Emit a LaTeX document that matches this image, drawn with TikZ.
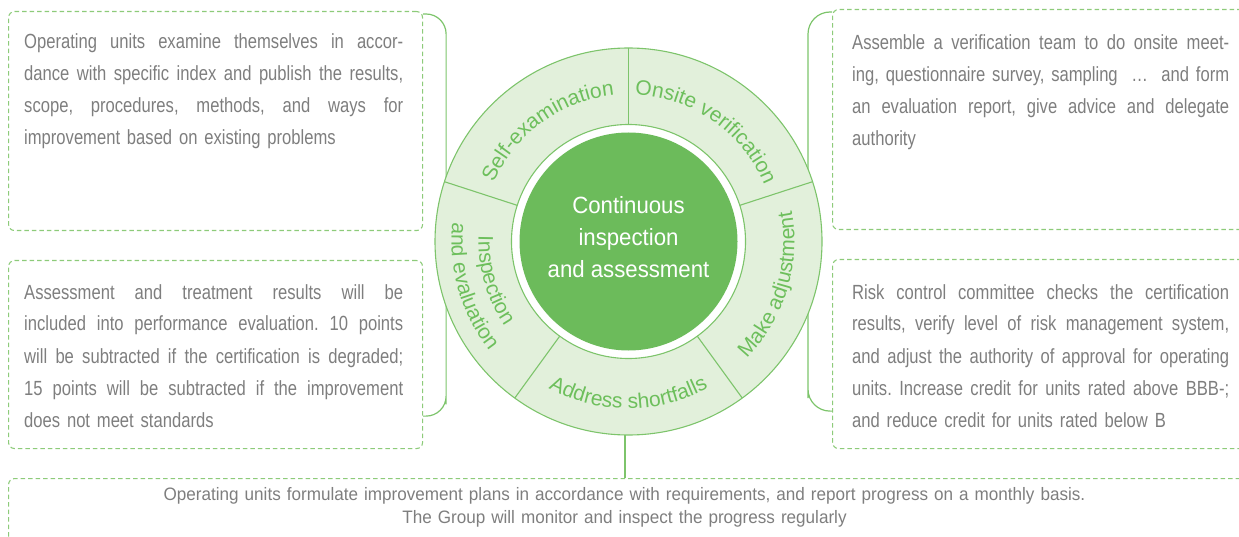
\documentclass[tikz,border=0pt]{standalone}
\usepackage{fontspec}
\setmainfont{Liberation Sans}
\newfontfamily\bodyfam[FakeStretch=0.81]{Liberation Sans}
\newfontfamily\botfam[FakeStretch=0.95]{Liberation Sans}
\newfontfamily\ctrfam[FakeStretch=0.945]{Liberation Sans}
\newfontfamily\ringfam{Liberation Sans}
\newcommand{\bodyfont}{\bodyfam\fontsize{20.5}{32}\selectfont\frenchspacing}
\newcommand{\botfont}{\botfam\fontsize{18}{23}\selectfont\frenchspacing}
\newcommand{\ctrfont}{\ctrfam\fontsize{23.5}{32}\selectfont}
\newcommand{\ringfont}{\ringfam\fontsize{21}{24}\selectfont}
\newcommand{\fla}[1]{\makebox[379pt][s]{\spaceskip=4.62pt plus 1fil minus 1pt\relax\xspaceskip=4.62pt plus 1fil minus 1pt\relax #1}}
\newcommand{\flb}[1]{\makebox[377pt][s]{\spaceskip=4.62pt plus 1fil minus 1pt\relax\xspaceskip=4.62pt plus 1fil minus 1pt\relax #1}}
\usetikzlibrary{decorations.text,calc}
\definecolor{dashgreen}{HTML}{8DCB7A}
\definecolor{linegreen}{HTML}{7DC46B}
\definecolor{ringfill}{HTML}{E2F0DB}
\definecolor{centergreen}{HTML}{6CBB5B}
\definecolor{ringtext}{HTML}{6DBF5C}
\definecolor{bodygray}{HTML}{7E7E7E}
\begin{document}
\begin{tikzpicture}[x=1pt,y=1pt,
  dbox/.style={draw=dashgreen, line width=1.1pt, dash pattern=on 4.5pt off 3pt,
    rounded corners=6pt, rectangle, inner sep=0pt, anchor=north west},
  bodytxt/.style={anchor=base west, inner sep=0pt, text width=#1, align=left,
    font=\bodyfont, text=bodygray},
  bracket/.style={draw=linegreen, line width=1.2pt},
  ringline/.style={draw=linegreen, line width=1.1pt}]
\useasboundingbox (0,0) rectangle (1239,-537);
\clip (0,0) rectangle (1239,-537);

% boxes
\node[dbox, minimum width=414pt, minimum height=219pt] (box1) at (8,-11) {};
\node[dbox, minimum width=414pt, minimum height=188pt] (box2) at (8,-260) {};
\node[dbox, minimum width=430pt, minimum height=220pt] (box3) at (832,-9) {};
\node[dbox, minimum width=430pt, minimum height=189pt] (box4) at (832,-259) {};
\node[dbox, minimum width=1260pt, minimum height=90pt] (box5) at (8,-478) {};

% box texts
\node[bodytxt=380pt] (t1) at (24,-49) {%
\fla{Operating units examine themselves in accor-}\\
\fla{dance with specific index and publish the results,}\\
\fla{scope, procedures, methods, and ways for}\\
improvement based on existing problems};
\node[bodytxt=380pt] (t2) at (24,-299) {%
\fla{Assessment and treatment results will be}\\
\fla{included into performance evaluation. 10 points}\\
\fla{will be subtracted if the certification is degraded;}\\
\fla{15 points will be subtracted if the improvement}\\
does not meet standards};
\node[bodytxt=378pt] (t3) at (852,-50) {%
\flb{Assemble a verification team to do onsite meet-}\\
\flb{ing, questionnaire survey, sampling \ … \ and form}\\
\flb{an evaluation report, give advice and delegate}\\
authority};
\node[bodytxt=378pt] (t4) at (852,-299) {%
\flb{Risk control committee checks the certification}\\
\flb{results, verify level of risk management system,}\\
\flb{and adjust the authority of approval for operating}\\
\flb{units. Increase credit for units rated above BBB-;}\\
and reduce credit for units rated below B};
\node[anchor=base, inner sep=0pt, text width=1100pt, align=center, font=\botfont, text=bodygray] (t5) at (624.5,-500) {%
Operating units formulate improvement plans in accordance with requirements, and report progress on a monthly basis.\\
The Group will monitor and inspect the progress regularly};

% brackets
\coordinate (lb1) at ($(box1.north east)+(0,-3)$);
\coordinate (lb2) at ($(box2.south east)+(0,33)$);
\coordinate (rb1) at ($(box3.north west)+(0,-3)$);
\coordinate (rb2) at ($(box4.south west)+(0,38)$);
\draw[bracket, rounded corners=20pt] (lb1) -| ($(lb2)+(23,0)$) |- (lb2);
\draw[bracket, rounded corners=22pt] (rb1) -| ($(rb2)+(-24,0)$) |- (rb2);

% ring
\coordinate (C) at (628.5,-241.5);
\fill[ringfill, even odd rule] (C) circle[radius=193.5] (C) circle[radius=117];
\draw[ringline] (C) circle[radius=193.5];
\draw[ringline] (C) circle[radius=117];
\foreach \a in {18,90,162,234,306}
  \draw[ringline] ($(C)+(\a:117)$) -- ($(C)+(\a:193.5)$);

% connector to bottom box
\coordinate (rbot) at (625,-435);
\draw[ringline] (rbot) -- (rbot |- box5.north);

% center
\node[circle, fill=centergreen, minimum size=218pt, inner sep=0pt] (ctr) at (C) {};
\node[text=white, font=\ctrfont, align=center, inner sep=0pt] (ctrtext) at ($(ctr.center)+(0,4)$) {Continuous\\inspection\\and assessment};

% ring labels
\path[decorate, decoration={text along path, text align=center, text color=ringtext,
  text={|\ringfont|Self-examination}}]
  ($(C)+(172:147)$) arc[start angle=172, end angle=80, radius=147];
\path[decorate, decoration={text along path, text align=center, text color=ringtext,
  text={|\ringfont|Onsite verification}}]
  ($(C)+(102:147)$) arc[start angle=102, end angle=8, radius=147];
\path[decorate, decoration={text along path, text align=center, text color=ringtext,
  text={|\ringfont|Make adjustment}}]
  ($(C)+(-65:166)$) arc[start angle=-65, end angle=31, radius=166];
\path[decorate, decoration={text along path, text align=center, text color=ringtext,
  text={|\ringfont|Address shortfalls}}]
  ($(C)+(222:167)$) arc[start angle=222, end angle=318, radius=167];
\path[decorate, decoration={text along path, text align=center, text color=ringtext,
  text={|\ringfont|Inspection}}]
  ($(C)+(160:150)$) arc[start angle=160, end angle=232, radius=150];
\path[decorate, decoration={text along path, text align=center, text color=ringtext,
  text={|\ringfont|and evaluation}}]
  ($(C)+(160:177)$) arc[start angle=160, end angle=232, radius=177];
\end{tikzpicture}
\end{document}
